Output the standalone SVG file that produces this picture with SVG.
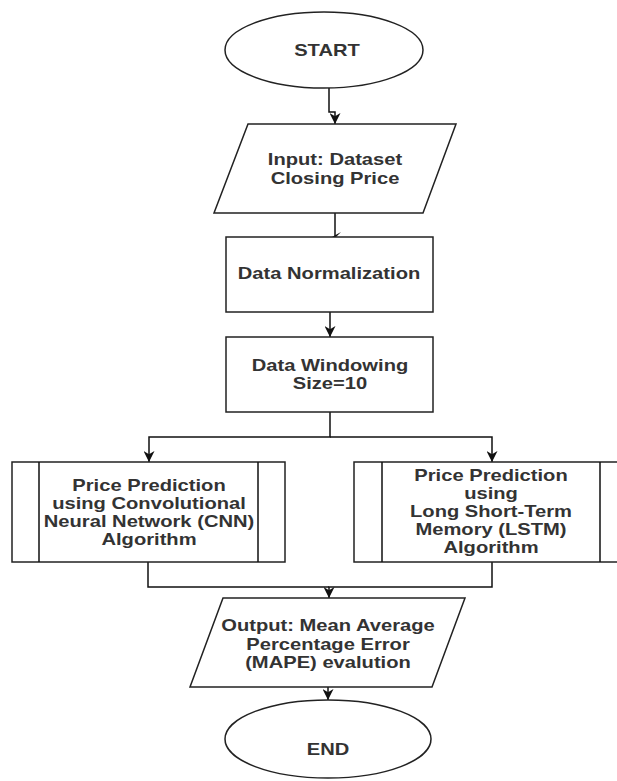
<svg xmlns="http://www.w3.org/2000/svg" width="617" height="781" viewBox="0 0 617 781">
<style>
.shape{fill:#fff;stroke:#222;stroke-width:1.5}
.line{fill:none;stroke:#111;stroke-width:1.5}
.t{font-family:"Liberation Sans",Arial,sans-serif;font-size:16px;font-weight:bold;fill:#333;text-anchor:middle}
</style>
<defs>
<marker id="arr" viewBox="0 0 10 10" refX="10" refY="5" markerWidth="11" markerHeight="11" markerUnits="userSpaceOnUse" orient="auto">
<path d="M0,0 L10,5 L0,10 L3,5 Z" fill="#111"/>
</marker>
</defs>
<rect width="617" height="781" fill="#fff"/>
<g id="connectors">
<path class="line" d="M329,88 V112 H335 V124" marker-end="url(#arr)"/>
<path class="line" d="M335,213 V237"/>
<path d="M332,237 L341,232 L336,237 Z" fill="#111"/>
<path class="line" d="M330,312 V337" marker-end="url(#arr)"/>
<path class="line" d="M330,412 V437 H149 V462" marker-end="url(#arr)"/>
<path class="line" d="M330,437 H492 V462" marker-end="url(#arr)"/>
<path class="line" d="M148,562 V587 H329"/>
<path class="line" d="M492,562 V587 H329 V598" marker-end="url(#arr)"/>
<path class="line" d="M328,687 V700" marker-end="url(#arr)"/>
</g>
<g id="start">
<ellipse class="shape" cx="324" cy="50" rx="99" ry="38"/>
<g transform="translate(327,0) scale(1.26,1)"><text class="t" x="0" y="56">START</text></g>
</g>
<g id="input">
<polygon class="shape" points="248,124 456,124 423,213 214,213"/>
<g transform="translate(335,0) scale(1.26,1)"><text class="t" x="0" y="165">Input: Dataset</text><text class="t" x="0" y="184">Closing Price</text></g>
</g>
<g id="normalization">
<rect class="shape" x="226" y="237" width="207" height="75"/>
<g transform="translate(329,0) scale(1.26,1)"><text class="t" x="0" y="279">Data Normalization</text></g>
</g>
<g id="windowing">
<rect class="shape" x="226" y="337" width="207" height="75"/>
<g transform="translate(330,0) scale(1.26,1)"><text class="t" x="0" y="371">Data Windowing</text><text class="t" x="0" y="389">Size=10</text></g>
</g>
<g id="cnn">
<rect class="shape" x="12" y="462" width="273" height="100"/>
<path class="line" d="M39,462 V562 M258,462 V562"/>
<g transform="translate(149,0) scale(1.26,1)"><text class="t" x="0" y="491">Price Prediction</text><text class="t" x="0" y="509">using Convolutional</text><text class="t" x="0" y="527">Neural Network (CNN)</text><text class="t" x="0" y="545">Algorithm</text></g>
</g>
<g id="lstm">
<rect class="shape" x="354" y="462" width="274" height="100"/>
<path class="line" d="M382,462 V562 M600,462 V562"/>
<g transform="translate(491,0) scale(1.26,1)"><text class="t" x="0" y="481">Price Prediction</text><text class="t" x="0" y="499">using</text><text class="t" x="0" y="517">Long Short-Term</text><text class="t" x="0" y="535">Memory (LSTM)</text><text class="t" x="0" y="553">Algorithm</text></g>
</g>
<g id="output">
<polygon class="shape" points="223,598 465,598 432,687 190,687"/>
<g transform="translate(328,0) scale(1.26,1)"><text class="t" x="0" y="631">Output: Mean Average</text><text class="t" x="0" y="650">Percentage Error</text><text class="t" x="0" y="668">(MAPE) evalution</text></g>
</g>
<g id="end">
<ellipse class="shape" cx="328" cy="739" rx="103" ry="39"/>
<g transform="translate(328,0) scale(1.26,1)"><text class="t" x="0" y="755">END</text></g>
</g>
</svg>
